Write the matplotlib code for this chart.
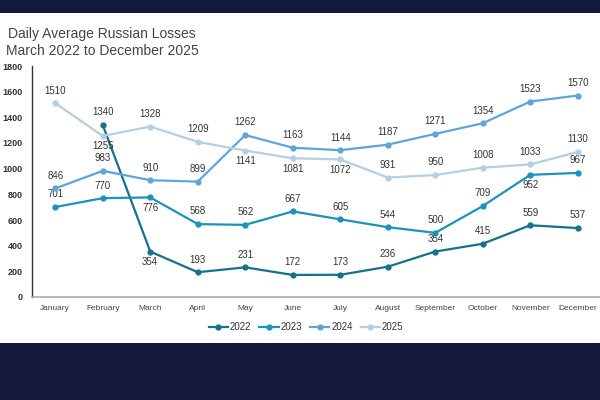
import matplotlib
matplotlib.use("Agg")
import matplotlib.pyplot as plt
import numpy as np
from matplotlib.patches import Rectangle

plt.rcParams["font.family"] = ["Liberation Sans", "DejaVu Sans"]

months = ["January", "February", "March", "April", "May", "June", "July",
          "August", "September", "October", "November", "December"]
y2022 = [np.nan, 1340, 354, 193, 231, 172, 173, 236, 354, 415, 559, 537]
y2023 = [701, 770, 776, 568, 562, 667, 605, 544, 500, 709, 952, 967]
y2024 = [846, 983, 910, 899, 1262, 1163, 1144, 1187, 1271, 1354, 1523, 1570]
y2025 = [1510, 1255, 1328, 1209, 1141, 1081, 1072, 931, 950, 1008, 1033, 1130]
# label position: 1 = above, -1 = below
pos2022 = [0, 1, -1, 1, 1, 1, 1, 1, 1, 1, 1, 1]
pos2023 = [1, 1, -1, 1, 1, 1, 1, 1, 1, 1, -1, 1]
pos2024 = [1] * 12
pos2025 = [1, -1, 1, 1, -1, -1, -1, 1, 1, 1, 1, 1]
yticks = [0, 200, 400, 600, 800, 1000, 1200, 1400, 1600, 1800]

series = [
    ("2022", y2022, pos2022, "#17708c"),
    ("2023", y2023, pos2023, "#1c93b8"),
    ("2024", y2024, pos2024, "#5ea5d8"),
    ("2025", y2025, pos2025, "#b5cfe2"),
]

narrow = ["Liberation Sans Narrow", "Liberation Sans", "DejaVu Sans"]

fig = plt.figure(figsize=(6, 4), dpi=100)
fig.patch.set_facecolor("#151a3c")
fig.patches.append(Rectangle((0, (400 - 343) / 400), 1, 330 / 400,
                             transform=fig.transFigure, facecolor="white",
                             edgecolor="none", zorder=-5))

ax = fig.add_axes([31.5 / 600, (400 - 297) / 400, 570 / 600, 231 / 400])
ax.set_zorder(2)
ax.set_facecolor("none")
x = np.arange(len(months))
for name, vals, pos, col in series:
    ax.plot(x, vals, color=col, lw=1.6, marker="o", ms=3.5, label=name,
            zorder=3)
    for xi, v, p in zip(x, vals, pos):
        if np.isnan(v):
            continue
        off = 5.5 if p > 0 else -4
        ax.annotate(str(int(v)), (xi, v), xytext=(0, off),
                    textcoords="offset points", ha="center",
                    va="bottom" if p > 0 else "top", fontsize=7,
                    color="#333333")

ax.set_xlim(-0.5, 11.5)
ax.set_ylim(0, 1800)
ax.set_xticks(x)
ax.set_xticklabels(months, fontsize=6, color="#444444", family=narrow)
ax.set_yticks(yticks)
ax.set_yticklabels([str(t) for t in yticks], fontsize=6.5, color="#333333",
                   fontweight="bold", family=narrow)
ax.tick_params(axis="both", length=0, pad=6)
ax.tick_params(axis="y", pad=6.5)
for s in ["top", "right"]:
    ax.spines[s].set_visible(False)
ax.spines["left"].set_color("#333333")
ax.spines["left"].set_linewidth(1.0)
ax.spines["bottom"].set_color("#aaaaaa")
ax.spines["bottom"].set_linewidth(1.2)

leg = fig.legend(loc="center", bbox_to_anchor=(306 / 600, (400 - 327) / 400),
                 ncol=4, frameon=False, fontsize=7, handlelength=2.0,
                 columnspacing=0.8, handletextpad=0.2)
for t in leg.get_texts():
    t.set_color("#333333")

fig.text(8 / 600, (400 - 34) / 400, "Daily Average Russian Losses",
         fontsize=10, color="#444444", va="center", ha="left")
fig.text(6 / 600, (400 - 51) / 400, "March 2022 to December 2025",
         fontsize=10, color="#444444", va="center", ha="left")

fig.savefig("out.png", dpi=100, facecolor=fig.get_facecolor())
